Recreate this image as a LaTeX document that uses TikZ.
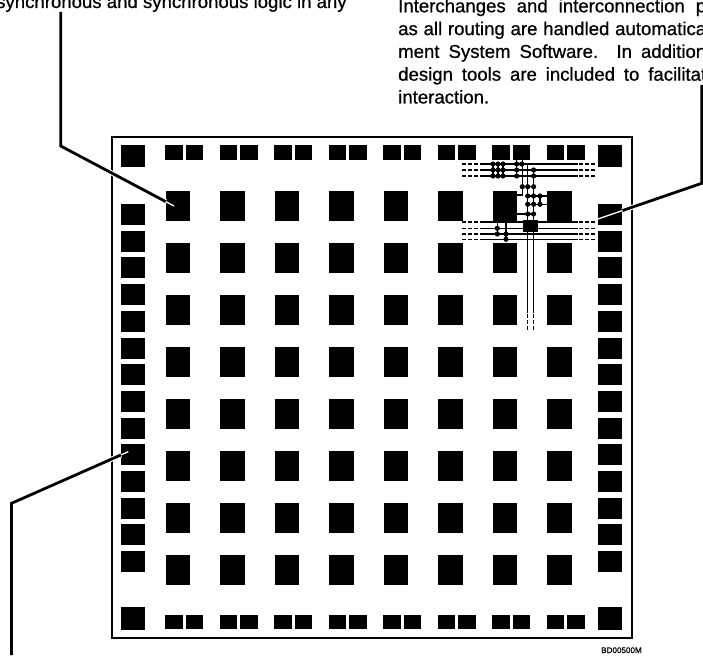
\documentclass[tikz,border=0pt]{standalone}
\usepackage{fontspec}
\setmainfont[RawFeature={embolden=0.7}]{Liberation Sans}
\usetikzlibrary{calc}
\newcommand{\fullline}[1]{\makebox[308pt][s]{#1}}

\begin{document}
\begin{tikzpicture}[
    x=1pt, y=-1pt,
    clb/.style={fill=black, inner sep=0pt, minimum width=24.5pt, minimum height=30pt},
    iob/.style={fill=black, inner sep=0pt, minimum width=24pt, minimum height=21pt},
    corner/.style={fill=black, inner sep=0pt, minimum width=24pt, minimum height=22.5pt},
    pad/.style={fill=black, inner sep=0pt, minimum width=17.5pt, minimum height=14.5pt},
    frame/.style={draw, line width=2.2pt},
    wire/.style={line width=1.5pt},
    wirecut/.style={wire, dash pattern=on 4pt off 2pt},
    leader/.style={line width=2.8pt, preaction={draw=white, line width=5pt}},
    leadertip/.style={draw=white, line width=1.3pt},
    blurb/.style={inner sep=0pt, align=left, font={\fontsize{18.6}{22.8}\selectfont}}
]
\useasboundingbox (0,0) rectangle (703,655);

% text above and drawing number
\node[blurb, anchor=base west] (logictext) at (-4,8) {synchronous and synchronous logic in any};
\node[blurb, anchor=north west] (routetext) at (398,-1.4) {\fullline{Interchanges and interconnection p}\\\fullline{as all routing are handled automatica}\\\fullline{ment System Software. In addition}\\\fullline{design tools are included to facilitat}\\interaction.};
\node[inner sep=0pt, anchor=base west, font={\fontsize{8.1}{9}\selectfont}] (drawno) at (601,653) {BD00500M};

% logic blocks
\foreach \c in {0,...,7}
    \foreach \r in {0,...,7}
        \node[clb] (clb\c\r) at ({178+54.5*\c},{205.5+52*\r}) {};

% side pads
\foreach \r in {0,...,13} {
    \node[iob] (left\r) at (132.9,{214.5+26.7*\r}) {};
    \node[iob] (right\r) at (610.3,{214.5+26.7*\r}) {};
}
% top and bottom pads
\foreach \c in {0,...,7} {
    \node[pad] (topa\c) at ({173.8+54.5*\c},152.7) {};
    \node[pad] (topb\c) at ({194.6+54.5*\c},152.7) {};
    \node[pad] (bota\c) at ({173.8+54.5*\c},622.2) {};
    \node[pad] (botb\c) at ({194.6+54.5*\c},622.2) {};
}
\node[corner] (cornerNW) at (132.9,156.2) {};
\node[corner] (cornerNE) at (610.3,156.2) {};
\node[corner] (cornerSW) at (132.9,618.6) {};
\node[corner] (cornerSE) at (610.3,618.6) {};

\draw[frame] (112,137) rectangle (632,638);

% long lines
\foreach \y in {164,170,176,222,228.3,234,239.3} {
    \draw[wire] (480,\y) -- (578,\y);
    \draw[wirecut] (462,\y) -- (480,\y);
    \draw[wirecut] (579,\y) -- (595,\y);
}
\draw[wire] (527.7,163) -- (527.7,313);
\draw[wire] (533.6,168) -- (533.6,313);
\draw[wirecut] (527.7,314) -- (527.7,331);
\draw[wirecut] (533.6,314) -- (533.6,331);

% local connections
\draw[wire] (493,164) -- (493,176);
\draw[wire] (498,164) -- (498,176);
\draw[wire] (503,164) -- (503,176);
\draw[wire] (516.7,160) -- (516.7,176);
\draw[wire] (522.3,160) -- (522.3,195) -- (517,195);
\draw[wire] (522.3,186.7) -- (533.6,186.7);
\draw[wire] (527.7,196) -- (547,196);
\draw[wire] (527.7,204.3) -- (547,204.3);
\draw[wire] (517,214) -- (533.6,214);
\draw[wire] (540,196) -- (540,204.3);
\draw[wire] (497.3,222) -- (497.3,234);
\draw[wire] (506,222) -- (506,241);
\foreach \x/\y in {493/164,498/164,503/164,493/170,498/170,503/170,493/176,498/176,503/176,
    516.7/164,516.7/170,516.7/176,521.7/164,533.6/170,533.6/176,
    522.3/186.7,527.7/186.7,533.6/186.7,527.7/196,533.6/196,540/196,
    527.7/204.3,533.6/204.3,540/204.3,527.7/214,533.6/214,
    497.3/228.3,497.3/234,506/234,506/239.3}
    \fill (\x,\y) circle (2.6pt);
\node[fill=black, inner sep=0pt, minimum width=15pt, minimum height=12pt] (switch) at (530.8,226) {};

% leaders
\coordinate (logicstart) at (60.7,12);
\coordinate (logicbend) at (60.7,146);
\coordinate (logictip) at (174,206);
\coordinate (logicedge) at ($(logicbend)!0.927!(logictip)$);
\draw[leader] (logicstart) -- (logicbend) -- (logicedge);
\draw[leadertip] (logicedge) -- (logictip);

\coordinate (routestart) at (701.7,85);
\coordinate (routebend) at (701.7,183.3);
\coordinate (routetip) at (595,220);
\coordinate (routeedge) at ($(routebend)!0.744!(routetip)$);
\draw[leader] (routestart) -- (routebend) -- (routeedge);
\draw[leadertip] (routeedge) -- (routetip);

\coordinate (padstart) at (11.5,655);
\coordinate (padbend) at (11.5,503.3);
\coordinate (padtip) at (128.3,451.7);
\coordinate (padedge) at ($(padbend)!0.9375!(padtip)$);
\draw[leader] (padstart) -- (padbend) -- (padedge);
\draw[leadertip] (padedge) -- (padtip);
\end{tikzpicture}
\end{document}
